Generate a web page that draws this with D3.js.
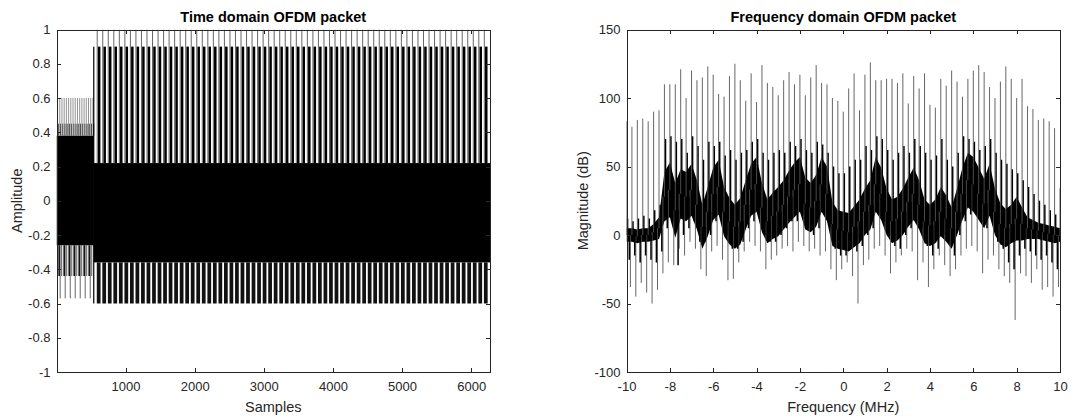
<!DOCTYPE html>
<html>
<head>
<meta charset="utf-8">
<script src="https://cdn.jsdelivr.net/npm/d3@7"></script>
<style>
  html, body { margin: 0; padding: 0; background: #fff; }
  svg { display: block; font-family: "Liberation Sans", Arial, Helvetica, sans-serif; }
</style>
</head>
<body>
<svg id="chart" width="1073" height="419"></svg>
<script>
// ---------------- Time domain packet ----------------
const sampleRange = [1, 6272];
const preambleEnd = 540;
// solid core of the preamble oscillation (min / max amplitude)
const preambleCore = [-0.26, 0.38];
// repeating crests of the preamble: sample index, black crest, thin peak
const preambleUpSamples = [16, 48, 80, 112, 144, 176, 208, 240, 272, 304, 336, 368, 400, 432, 464, 496, 528];
const preambleUpLevels = [0.45, 0.6];
const preambleDownSamples = [40, 113, 186, 258, 330, 402, 475];
const preambleDownLevels = [-0.44, -0.57];
// solid core of the payload
const payloadCore = [-0.36, 0.22];
// first sample of every payload symbol burst
const symbolStarts = [590, 670, 750, 830, 910, 990, 1070, 1150, 1230, 1310, 1390, 1470, 1550, 1630,
  1710, 1790, 1870, 1950, 2030, 2110, 2190, 2270, 2350, 2430, 2510, 2590, 2670, 2750, 2830, 2910,
  2990, 3070, 3150, 3230, 3310, 3390, 3470, 3550, 3630, 3710, 3790, 3870, 3950, 4030, 4110, 4190,
  4270, 4350, 4430, 4510, 4590, 4670, 4750, 4830, 4910, 4990, 5070, 5150, 5230, 5310, 5390, 5470,
  5550, 5630, 5710, 5790, 5870, 5950, 6030, 6110, 6190];
const symbolPeak = 1.0;     // thin peak of each burst
const symbolCrest = 0.9;    // solid crest of each burst
const symbolTrough = -0.6;  // solid trough of each burst
const timeXTicks = [1000, 2000, 3000, 4000, 5000, 6000];
const timeYTicks = [-1, -0.8, -0.6, -0.4, -0.2, 0, 0.2, 0.4, 0.6, 0.8, 1];

// ---------------- Frequency domain packet (0.25 MHz grid, -10 .. 10 MHz) ----------------
const freqStart = -10, freqStep = 0.25;
const spikeTop = [83, 79, 84, 85, 83, 90, 91, 110, 110, 110,
  121, 100, 120, 113, 115, 123, 117, 103, 101, 116,
  125, 113, 98, 118, 97, 124, 111, 108, 102, 113,
  119, 110, 117, 102, 115, 124, 111, 110, 100, 98,
  90, 107, 118, 91, 117, 126, 113, 113, 114, 114,
  111, 118, 96, 116, 107, 118, 95, 93, 114, 109,
  120, 112, 101, 114, 120, 124, 119, 108, 100, 112,
  123, 114, 100, 114, 94, 92, 84, 85, 83, 78,
  34];
const bandMid = [0, 0, -1, 0, 0, 2, 5,
  28, 33, 18, 30, 28, 33, 22, 6, 17, 30,
  35, 17, 10, 6, 10, 22, 33, 37, 20, 10,
  14, 17, 22, 28, 33, 37, 23, 20, 25, 37,
  30, 8, 4, 3, 2, 6, 10, 17, 22, 37,
  30, 17, 10, 12, 17, 24, 30, 22, 10, 7,
  10, 17, 12, 5, 17, 30, 40, 37, 30, 23,
  33, 17, 8, 5, 8, 12, 8,
  5, 4, 3, 2, 1, 0, 0];
const bandSpread = [5, 5, 5, 5, 5, 6, 8,
  18, 20, 20, 18, 18, 19, 18, 16, 18, 19,
  20, 18, 17, 16, 17, 18, 19, 20, 18, 16,
  17, 18, 18, 19, 20, 20, 19, 18, 19, 20,
  20, 16, 14, 14, 14, 15, 16, 17, 18, 20,
  19, 17, 16, 16, 17, 18, 19, 18, 16, 15,
  16, 18, 17, 15, 17, 19, 20, 20, 19, 18,
  19, 17, 15, 14, 14, 16, 12,
  8, 7, 6, 6, 6, 6, 5];
const blackPeak = [12, 10, 12, 14, 12, 18, 22,
  70, 72, 68, 70, 60, 72, 65, 55, 68, 65,
  68, 58, 62, 55, 60, 62, 68, 70, 60, 55,
  60, 62, 60, 68, 65, 70, 62, 60, 68, 66,
  60, 50, 45, 45, 50, 55, 55, 65, 62, 72,
  70, 62, 55, 60, 65, 60, 70, 65, 60, 55,
  58, 70, 55, 50, 60, 72, 70, 68, 62, 65,
  70, 60, 55, 52, 48, 45, 40,
  35, 30, 25, 22, 18, 15, 10];
const blackTrough = [-18, -15, -20, -15, -18, -20, -12,
  5, 10, -22, 0, 5, 10, -5, -5, 0, 10,
  15, 0, -10, -10, -5, 5, 10, 15, 0, -5,
  -5, 0, 5, 10, 10, 15, 5, 0, 5, 15,
  5, -10, -15, -15, -10, -12, -8, 0, 5, 15,
  10, 0, -8, -10, 0, 5, 10, 5, -8, -15,
  -10, 0, -5, -15, 0, 10, 15, 15, 10, 5,
  10, -5, -10, -20, -25, -15, -10,
  -12, -15, -18, -15, -20, -25, -20];
const dipDepth = [-40, -38, -45, -35, -42, -50, -40,
  -28, -20, -22, -10, -15, -5, -10, -25, -30, -12,
  -8, -18, -33, -32, -20, -12, -5, -8, -12, -25,
  -18, -15, -10, -8, -12, -5, -8, -12, -10, -15,
  -12, -25, -33, -25, -20, -30, -50, -22, -18, -10,
  -8, -15, -28, -20, -15, -10, -12, -33, -20, -38,
  -25, -15, -22, -30, -25, -15, -10, -8, -12, -28,
  -18, -15, -25, -30, -35, -62, -28,
  -30, -35, -25, -40, -38, -45, -38];
const freqXTicks = [-10, -8, -6, -4, -2, 0, 2, 4, 6, 8, 10];
const freqYTicks = [-100, -50, 0, 50, 100, 150];

// ---------------- layout ----------------
const svg = d3.select("#chart");
svg.append("rect").attr("width", 1073).attr("height", 419).attr("fill", "#fff");
const plotTop = 29.5, plotBottom = 372;
const ink = "#262626";

function makePanel(id, left, right, xDomain, yDomain) {
  const x = d3.scaleLinear().domain(xDomain).range([left, right]);
  const y = d3.scaleLinear().domain(yDomain).range([plotBottom, plotTop]);
  const g = svg.append("g");
  g.append("clipPath").attr("id", id).append("rect")
    .attr("x", left).attr("y", plotTop)
    .attr("width", right - left).attr("height", plotBottom - plotTop);
  const body = g.append("g").attr("clip-path", `url(#${id})`);
  return { x, y, g, body, left, right };
}

function styleAxis(sel) {
  sel.attr("font-family", null).attr("font-size", null);
  sel.select(".domain").attr("stroke", ink).attr("shape-rendering", "crispEdges");
  sel.selectAll(".tick line").attr("stroke", ink).attr("shape-rendering", "crispEdges");
  sel.selectAll(".tick text").attr("fill", ink).style("font-size", "13px");
}

function drawFrame(p, xTicks, yTicks, title, xLabel, yLabel, yLabelX) {
  const fmt = d => String(d);
  const blank = () => "";
  p.g.append("g").attr("transform", `translate(0,${plotBottom})`)
    .call(d3.axisBottom(p.x).tickValues(xTicks).tickFormat(fmt).tickSizeInner(-4.5).tickSizeOuter(0).tickPadding(10))
    .call(styleAxis);
  p.g.append("g").attr("transform", `translate(0,${plotTop})`)
    .call(d3.axisTop(p.x).tickValues(xTicks).tickFormat(blank).tickSizeInner(-4.5).tickSizeOuter(0))
    .call(styleAxis);
  p.g.append("g").attr("transform", `translate(${p.left},0)`)
    .call(d3.axisLeft(p.y).tickValues(yTicks).tickFormat(fmt).tickSizeInner(-4.5).tickSizeOuter(0).tickPadding(6))
    .call(styleAxis);
  p.g.append("g").attr("transform", `translate(${p.right},0)`)
    .call(d3.axisRight(p.y).tickValues(yTicks).tickFormat(blank).tickSizeInner(-4.5).tickSizeOuter(0))
    .call(styleAxis);

  const cx = (p.left + p.right) / 2;
  p.g.append("text").attr("x", cx).attr("y", 22).attr("text-anchor", "middle")
    .style("font-size", "14.5px").style("font-weight", "bold").attr("fill", "#000").text(title);
  p.g.append("text").attr("x", cx).attr("y", 412).attr("text-anchor", "middle")
    .style("font-size", "14.5px").attr("fill", ink).text(xLabel);
  p.g.append("text").attr("transform", `translate(${yLabelX},${(plotTop + plotBottom) / 2}) rotate(-90)`)
    .attr("text-anchor", "middle").style("font-size", "14.5px").attr("fill", ink).text(yLabel);
}

// ---------------- left panel: time domain ----------------
const L = makePanel("clip-time", 56.5, 490, sampleRange, [-1, 1]);
const tb = L.body;
const vline = (g, x, y1, y2, color, w) => g.append("line")
  .attr("x1", x).attr("x2", x).attr("y1", y1).attr("y2", y2)
  .attr("stroke", color).attr("stroke-width", w);

// preamble: solid core, crests and troughs
tb.append("rect").attr("x", L.x(sampleRange[0])).attr("width", L.x(preambleEnd) - L.x(sampleRange[0]))
  .attr("y", L.y(preambleCore[1])).attr("height", L.y(preambleCore[0]) - L.y(preambleCore[1]))
  .attr("fill", "#000");
preambleUpSamples.forEach(s => {
  vline(tb, L.x(s), L.y(preambleCore[1]), L.y(preambleUpLevels[1]), "#777", 0.8);
  vline(tb, L.x(s + 12), L.y(preambleCore[1]), L.y(preambleUpLevels[0]), "#222", 0.8);
});
preambleDownSamples.forEach(s => {
  vline(tb, L.x(s), L.y(preambleCore[0]), L.y(preambleDownLevels[0]), "#000", 1.6);
  vline(tb, L.x(s + 14), L.y(preambleCore[0]), L.y(preambleDownLevels[1]), "#555", 0.9);
  vline(tb, L.x(s + 36), L.y(preambleCore[0]), L.y(preambleDownLevels[0]), "#333", 0.8);
});

// payload: solid core, then each symbol burst
tb.append("rect").attr("x", L.x(preambleEnd)).attr("width", L.x(sampleRange[1]) - L.x(preambleEnd))
  .attr("y", L.y(payloadCore[1])).attr("height", L.y(payloadCore[0]) - L.y(payloadCore[1]))
  .attr("fill", "#000");
vline(tb, L.x(preambleEnd), L.y(symbolTrough), L.y(symbolCrest), "#000", 1.2);
symbolStarts.forEach(s => {
  vline(tb, L.x(s), L.y(payloadCore[1]), L.y(symbolPeak), "#555", 0.9);
  tb.append("rect").attr("x", L.x(s + 10)).attr("width", L.x(s + 46) - L.x(s + 10))
    .attr("y", L.y(symbolCrest)).attr("height", L.y(payloadCore[1]) - L.y(symbolCrest))
    .attr("fill", "#000");
  tb.append("rect").attr("x", L.x(s - 6)).attr("width", L.x(s + 48) - L.x(s - 6))
    .attr("y", L.y(payloadCore[0])).attr("height", L.y(symbolTrough) - L.y(payloadCore[0]))
    .attr("fill", "#111");
});

drawFrame(L, timeXTicks, timeYTicks, "Time domain OFDM packet", "Samples", "Amplitude", 21.5);

// ---------------- right panel: frequency domain ----------------
const R = makePanel("clip-freq", 626.5, 1060, [-10, 10], [-100, 150]);
const fb = R.body;
const bins = spikeTop.map((_, i) => freqStart + i * freqStep);

fb.append("path").datum(bins)
  .attr("d", d3.area()
    .x(f => R.x(f))
    .y0((f, i) => R.y(bandMid[i] - bandSpread[i]))
    .y1((f, i) => R.y(bandMid[i] + bandSpread[i])))
  .attr("fill", "#000");

const spikes = (offset, values, color, width) => fb.append("g").selectAll("line").data(bins).join("line")
  .attr("x1", f => R.x(f + offset)).attr("x2", f => R.x(f + offset))
  .attr("y1", (f, i) => R.y(bandMid[i])).attr("y2", (f, i) => R.y(values[i]))
  .attr("stroke", color).attr("stroke-width", width);

spikes(-0.07, dipDepth, "#555", 0.9);    // downward excursions
spikes(0.13, blackTrough, "#000", 1.5);  // dark troughs
spikes(0.05, blackPeak, "#000", 1.5);    // secondary crests
spikes(0, spikeTop, "#555", 0.9);        // tall periodic peaks

drawFrame(R, freqXTicks, freqYTicks, "Frequency domain OFDM packet", "Frequency (MHz)", "Magnitude (dB)", 588);
</script>
</body>
</html>
